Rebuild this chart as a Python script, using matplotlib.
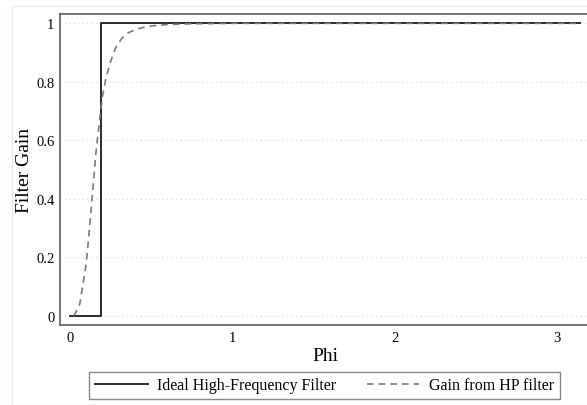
import matplotlib
matplotlib.use("Agg")
import matplotlib.pyplot as plt
from matplotlib.patches import Rectangle

plt.rcParams['font.family'] = ['Liberation Serif', 'DejaVu Serif']

# ideal high-frequency filter (step at the cutoff)
ideal_phi = [0.0, 0.19, 0.19, 3.1416]
ideal_gain = [0.0, 0.0, 1.0, 1.0]

# gain of the HP filter
hp_phi = [0.02, 0.03, 0.06, 0.08, 0.10, 0.12, 0.14, 0.16, 0.18, 0.20, 0.22,
          0.25, 0.28, 0.32, 0.36, 0.40, 0.45, 0.50, 0.60, 0.70, 0.85, 1.0, 3.1416]
hp_gain = [0.0, 0.005, 0.04, 0.11, 0.18, 0.30, 0.43, 0.56, 0.66, 0.75, 0.81,
           0.87, 0.915, 0.95, 0.968, 0.978, 0.986, 0.991, 0.996, 0.998, 0.999, 1.0, 1.0]

xticks = [0, 1, 2, 3]
yticks = [0, 0.2, 0.4, 0.6, 0.8, 1]
ytick_labels = ['0', '0.2', '0.4', '0.6', '0.8', '1']

fig = plt.figure(figsize=(5.87, 4.06), dpi=100)
fig.patches.append(Rectangle((12 / 587, 0), 1.0, 1 - 7 / 406, transform=fig.transFigure,
                             fill=False, edgecolor='#e4ecee', lw=1))
ax = fig.add_axes([60 / 587, 80 / 406, 530 / 587, 311 / 406])

ax.plot(ideal_phi, ideal_gain, color='#2b2b2b', lw=1.4, label='Ideal High-Frequency Filter')
ax.plot(hp_phi, hp_gain, color='#7a7a7a', lw=1.2, ls=(0, (4, 3)), label='Gain from HP filter')

ax.set_xlim(-0.062, 3.2036)
ax.set_ylim(-0.032, 1.032)
ax.set_xticks(xticks)
ax.set_yticks(yticks)
ax.set_yticklabels(ytick_labels)
ax.tick_params(length=0, labelsize=10.5, pad=4)
ax.grid(axis='y', color='#d4d4d4', ls=(0, (1, 3)), lw=0.8)
for s in ['left', 'bottom', 'top']:
    ax.spines[s].set_color('#6a6a6a')
    ax.spines[s].set_linewidth(1.3)
ax.spines['right'].set_visible(False)
ax.set_xlabel('Phi', fontsize=14)
ax.set_ylabel('Filter Gain', fontsize=14)
ax.xaxis.set_label_coords(0.5, -0.072)
ax.yaxis.set_label_coords(-0.05, 0.5)

fig.legend(loc='center', bbox_to_anchor=(324.5 / 587, 1 - 386.5 / 406), ncol=2,
           fontsize=11.5, frameon=True, fancybox=False, edgecolor='#6a6a6a',
           handlelength=3.3, columnspacing=1.9, borderpad=0.35, handletextpad=0.6)

fig.savefig('out.png', dpi=100)
